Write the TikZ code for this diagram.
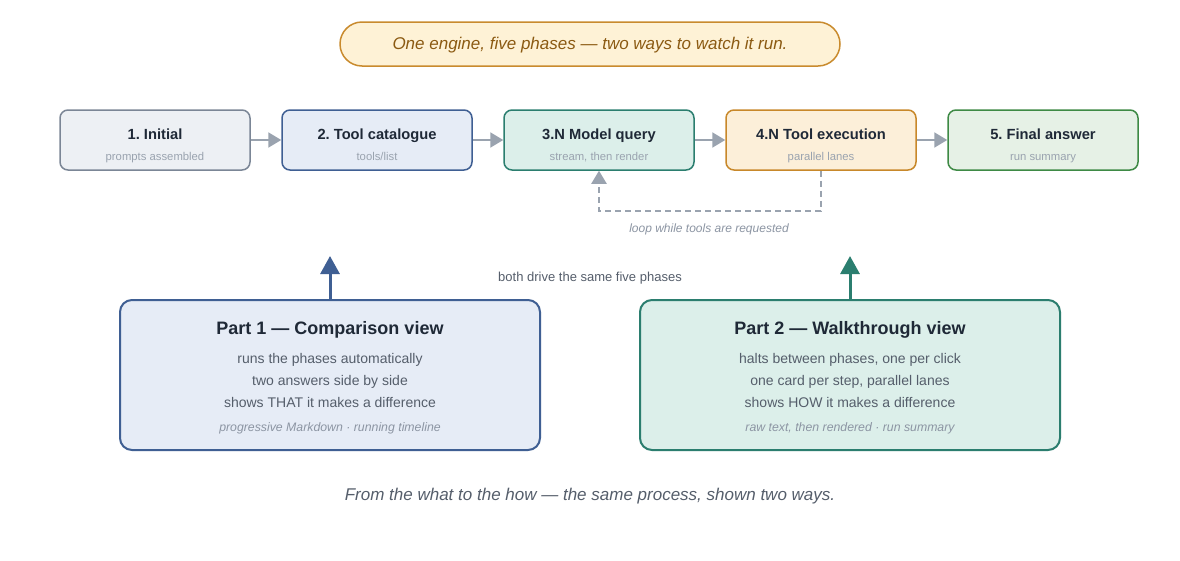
\documentclass[tikz,border=0pt]{standalone}
\usepackage{fontspec}
\setmainfont{Liberation Sans}
\usepackage{xcolor}
\usetikzlibrary{positioning,arrows.meta}
\frenchspacing

\definecolor{inkdark}{HTML}{1F2937}
\definecolor{inkmid}{HTML}{555E6B}
\definecolor{inklight}{HTML}{8C95A3}
\definecolor{arrowgray}{HTML}{9AA3AF}
\definecolor{bannerfill}{HTML}{FEF2D6}
\definecolor{bannerline}{HTML}{C98B2E}
\definecolor{bannerink}{HTML}{8B5A12}
\definecolor{fill1}{HTML}{EDF0F4}
\definecolor{line1}{HTML}{7B8696}
\definecolor{fill2}{HTML}{E6ECF6}
\definecolor{line2}{HTML}{3F5F93}
\definecolor{fill3}{HTML}{DCEFEA}
\definecolor{line3}{HTML}{2B7E6F}
\definecolor{fill4}{HTML}{FCEFD9}
\definecolor{line4}{HTML}{C8882A}
\definecolor{fill5}{HTML}{E6F1E6}
\definecolor{line5}{HTML}{3E8A45}

\tikzset{
  txt/.style={text height=0.72em, text depth=0.2em, inner sep=1pt, yshift=-2.5pt},
  phasebox/.style={draw, rounded corners=8pt, line width=1.5pt,
    minimum width=190pt, minimum height=60pt},
  phasetitle/.style={txt, font=\fontsize{14.7}{16}\selectfont\bfseries, text=inkdark},
  phasesub/.style={txt, font=\fontsize{11.3}{13}\selectfont, text=arrowgray},
  partbox/.style={draw, rounded corners=12pt, line width=2pt,
    minimum width=420pt, minimum height=150pt},
  parttitle/.style={txt, font=\fontsize{18}{20}\selectfont\bfseries, text=inkdark},
  partline/.style={txt, font=\fontsize{14}{16}\selectfont, text=inkmid},
  partnote/.style={txt, font=\fontsize{12.3}{14}\selectfont\itshape, text=inklight},
  flow/.style={draw=arrowgray, line width=2pt, -{Triangle[length=13pt,width=15pt]}},
  loopback/.style={draw=arrowgray, line width=2pt, dash pattern=on 6pt off 4pt,
    -{Triangle[length=13pt,width=15pt]}},
  drive/.style={line width=3pt, -{Triangle[length=18pt,width=19pt]}},
}

\begin{document}
\begin{tikzpicture}[x=1pt,y=-1pt]
  \fill[white] (0,0) rectangle (1180,560);
  \useasboundingbox (0,0) rectangle (1180,560);

  % Banner
  \node[draw=bannerline, fill=bannerfill, line width=1.5pt, rounded corners=22pt,
    minimum width=500pt, minimum height=44pt, inner sep=0pt,
    text height=1.3em, text depth=0.2em,
    font=\fontsize{17}{19}\selectfont\itshape, text=bannerink] (banner) at (590,44)
    {One engine, five phases — two ways to watch it run.};

  % Phases
  \foreach \i/\name/\sub in {1/{1. Initial}/{prompts assembled},
      2/{2. Tool catalogue}/{tools/list},
      3/{3.N Model query}/{stream, then render},
      4/{4.N Tool execution}/{parallel lanes},
      5/{5. Final answer}/{run summary}} {
    \node[phasebox, fill=fill\i, draw=line\i] (p\i) at ({155+222*(\i-1)},140) {};
    \node[phasetitle] (t\i) at ({155+222*(\i-1)},134) {\name};
    \node[phasesub] (s\i) at ({155+222*(\i-1)},155) {\sub};
  }
  \foreach \i/\j in {1/2,2/3,3/4,4/5}
    \draw[flow] (p\i) -- (p\j);

  % Loop back
  \draw[loopback] (p4.south) -- ++(0,40) -| (p3.south);
  \node[txt, font=\fontsize{12}{14}\selectfont\itshape, text=inklight] (looplbl) at (709,227)
    {loop while tools are requested};

  \node[txt, font=\fontsize{13}{15}\selectfont, text=inkmid] (bothlbl) at (590,276)
    {both drive the same five phases};

  % Part 1
  \node[partbox, fill=fill2, draw=line2] (part1) at (330,375) {};
  \node[parttitle] (part1t) at (330,329) {Part 1 — Comparison view};
  \node[partline] (part1a) at (330,358) {runs the phases automatically};
  \node[partline] (part1b) at (330,380) {two answers side by side};
  \node[partline] (part1c) at (330,402) {shows THAT it makes a difference};
  \node[partnote] (part1n) at (330,426) {progressive Markdown · running timeline};
  \coordinate (up1) at (330,256);
  \draw[drive, draw=line2, fill=line2] (part1.north) -- (up1);

  % Part 2
  \node[partbox, fill=fill3, draw=line3] (part2) at (850,375) {};
  \node[parttitle] (part2t) at (850,329) {Part 2 — Walkthrough view};
  \node[partline] (part2a) at (850,358) {halts between phases, one per click};
  \node[partline] (part2b) at (850,380) {one card per step, parallel lanes};
  \node[partline] (part2c) at (850,402) {shows HOW it makes a difference};
  \node[partnote] (part2n) at (850,426) {raw text, then rendered · run summary};
  \coordinate (up2) at (850,256);
  \draw[drive, draw=line3, fill=line3] (part2.north) -- (up2);

  % Footer
  \node[txt, font=\fontsize{17}{19}\selectfont\itshape, text=inkmid] (footer) at (590,495)
    {From the what to the how — the same process, shown two ways.};
\end{tikzpicture}
\end{document}
